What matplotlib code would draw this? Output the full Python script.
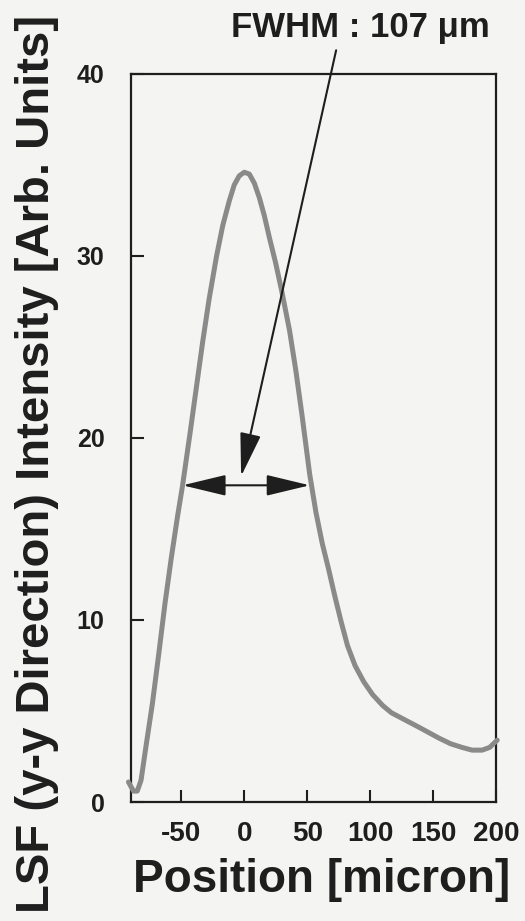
import matplotlib
matplotlib.use("Agg")
from matplotlib import pyplot as plt

plt.rcParams['font.family'] = ['Liberation Sans', 'DejaVu Sans']
plt.rcParams['font.weight'] = 'bold'

# LSF profile
position = [-92, -88, -85, -82, -78, -73, -68, -63, -58, -53, -49, -43, -38, -33, -28,
            -22, -17, -12, -8, -4, 0, 4, 8, 12, 16, 20, 25, 30, 36, 41, 46, 52, 57,
            62, 67, 72, 77, 82, 88, 95, 102, 110, 117, 128, 139, 147, 155, 164, 173,
            181, 189, 195, 201]
intensity = [1.1, 0.6, 0.6, 1.2, 3.1, 5.4, 8.1, 10.9, 13.4, 15.7, 17.4, 20.3, 22.8, 25.3, 27.6,
             30.0, 31.7, 33.0, 33.9, 34.4, 34.6, 34.5, 34.0, 33.2, 32.2, 31.0, 29.6, 28.0, 25.9,
             23.7, 21.2, 18.0, 15.9, 14.2, 12.8, 11.3, 9.9, 8.6, 7.5, 6.6, 5.9, 5.3, 4.9, 4.5,
             4.1, 3.8, 3.5, 3.2, 3.0, 2.85, 2.85, 3.0, 3.4]

xticks = [-50, 0, 50, 100, 150, 200]
yticks = [0, 10, 20, 30, 40]
fwhm_left, fwhm_right, half_max = -49, 52, 17.4

bg = '#f4f4f2'
ink = '#1e1e1e'

fig = plt.figure(figsize=(5.25, 9.21), dpi=100, facecolor=bg)
ax = fig.add_axes([0.2495, 0.1292, 0.6952, 0.7905], facecolor=bg)

ax.plot(position, intensity, color='#8a8a8a', lw=3.6, solid_capstyle='round', clip_on=False, zorder=3)

ax.set_xlim(-90, 200)
ax.set_ylim(0, 40)
ax.set_xticks(xticks)
ax.set_yticks(yticks)
ax.set_xticklabels([str(t) for t in xticks], fontsize=20, fontweight='bold', color=ink)
ax.set_yticklabels([str(t) for t in yticks], fontsize=18, fontweight='bold', color=ink)
ax.tick_params(axis='both', direction='in', length=9, width=1.5, color=ink)
ax.tick_params(axis='x', pad=14)
ax.tick_params(axis='y', pad=19)
for s in ax.spines.values():
    s.set_linewidth(1.6)
    s.set_color(ink)

# FWHM double arrow
ax.annotate('', xy=(fwhm_left, half_max), xytext=(fwhm_right, half_max),
            arrowprops=dict(arrowstyle='<|-|>,head_length=2.7,head_width=0.65',
                            mutation_scale=10, lw=1.5, color=ink,
                            shrinkA=0, shrinkB=0), zorder=4)

# pointer from label
ax.annotate('', xy=(-2.5, 17.9), xytext=(73, 41.3),
            arrowprops=dict(arrowstyle='-|>,head_length=2.7,head_width=0.65',
                            mutation_scale=10, lw=1.5, color=ink,
                            shrinkA=0, shrinkB=0),
            annotation_clip=False, zorder=4)

fig.text(360 / 525, 1 - 28 / 921, 'FWHM : 107 \u03bcm', fontsize=25, fontweight='bold',
         color=ink, ha='center', va='center')

fig.text(322 / 525, 1 - 880 / 921, 'Position [micron]', fontsize=33, fontweight='bold',
         color=ink, ha='center', va='center')
fig.text(37 / 525, 1 - 464 / 921, 'LSF (y-y Direction) Intensity [Arb. Units]', fontsize=34,
         fontweight='bold', color=ink, ha='center', va='center', rotation=90)

fig.savefig('out.png', dpi=100, facecolor=bg)
